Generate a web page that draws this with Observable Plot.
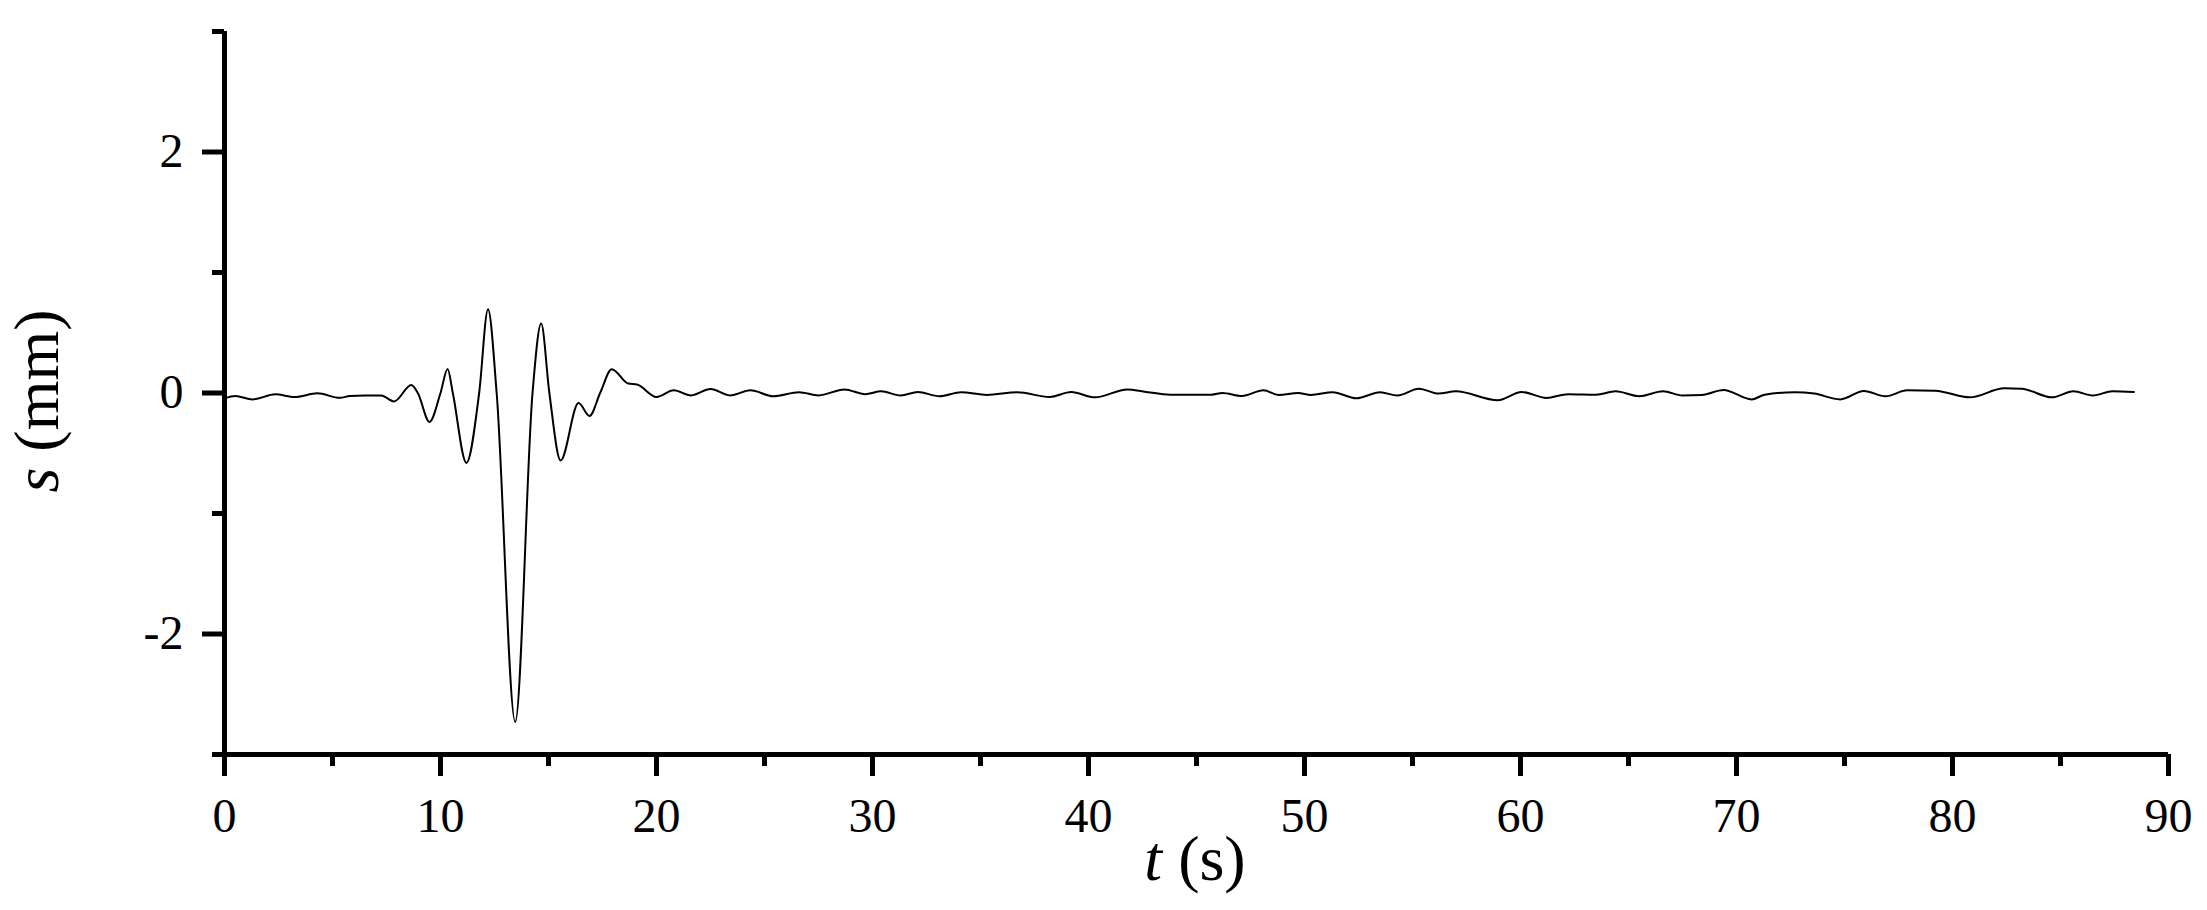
<!DOCTYPE html>
<html><head><meta charset="utf-8">
<script src="https://cdn.jsdelivr.net/npm/d3@7"></script>
<script src="https://cdn.jsdelivr.net/npm/@observablehq/plot@0.6"></script>
<style>body{margin:0;background:#fff;} svg{display:block}</style>
</head><body><div id="chart"></div>
<script>
// time (s)
const tSec = [0, 0.5, 1.3, 2.35, 3.25, 4.3, 5.35, 5.8, 6.5, 7.25, 7.85, 8.65, 8.95, 9.49, 10.0, 10.33, 10.57, 11.2, 11.79, 12.2, 12.6, 13.46, 14.26, 14.66, 15.04, 15.56, 16.39, 16.9, 17.39, 17.93, 18.69, 19.1, 20.0, 20.8, 21.6, 22.5, 23.4, 24.35, 25.4, 26.6, 27.5, 28.7, 29.66, 30.4, 31.3, 32.1, 33.1, 34.1, 35.3, 36.7, 38.2, 39.2, 40.3, 41.8, 42.6, 43.8, 45.7, 46.2, 47.1, 48.1, 48.8, 49.7, 50.3, 51.3, 52.4, 53.5, 54.3, 55.3, 56.2, 57.0, 58.95, 60.05, 61.2, 62.2, 63.5, 64.4, 65.5, 66.6, 67.5, 68.4, 69.4, 70.7, 71.3, 72.7, 73.6, 74.8, 75.9, 76.9, 77.9, 79.2, 80.8, 82.4, 83.2, 84.6, 85.6, 86.5, 87.4, 88.4];
// displacement (mm)
const sMm = [-0.045, -0.025, -0.053, -0.011, -0.033, -0.003, -0.04, -0.025, -0.02, -0.02, -0.07, 0.066, 0, -0.24, 0, 0.2, 0, -0.58, 0, 0.695, 0, -2.73, 0, 0.576, 0, -0.56, -0.083, -0.19, 0, 0.197, 0.078, 0.07, -0.033, 0.022, -0.02, 0.033, -0.02, 0.022, -0.027, 0.006, -0.02, 0.03, -0.01, 0.014, -0.02, 0.008, -0.027, 0.006, -0.016, 0.006, -0.033, 0.008, -0.036, 0.03, 0.011, -0.014, -0.014, 0, -0.025, 0.022, -0.016, 0, -0.016, 0.006, -0.044, 0.006, -0.02, 0.036, -0.005, 0.014, -0.06, 0.009, -0.041, -0.01, -0.014, 0.014, -0.027, 0.014, -0.02, -0.016, 0.025, -0.053, -0.014, 0.006, -0.005, -0.053, 0.017, -0.027, 0.022, 0.019, -0.036, 0.039, 0.036, -0.036, 0.014, -0.02, 0.014, 0.008];

const xMajorTicks = [0, 10, 20, 30, 40, 50, 60, 70, 80, 90];
const xMinorTicks = [5, 15, 25, 35, 45, 55, 65, 75, 85];
const yMajorTicks = [-2, 0, 2];
const yMinorTicks = [-3, -1, 1, 3];
const xLabelVar = "t", xLabelUnit = " (s)";
const yLabelVar = "s", yLabelUnit = " (mm)";

const W = 2207, H = 910;
const mL = 224, mR = 39, mT = 31, mB = 156;
const font = "'Liberation Serif', 'Times New Roman', serif";

const data = tSec.map((t, i) => ({t, s: sMm[i]}));

const chart = Plot.plot({
  width: W, height: H,
  marginLeft: mL, marginRight: mR, marginTop: mT, marginBottom: mB,
  style: {fontFamily: font, background: "white", color: "black"},
  x: {domain: [0, 90]},
  y: {domain: [-3, 3]},
  marks: [
    Plot.axisX(xMajorTicks, {tickSize: 22, tickPadding: 21, strokeWidth: 5, fontSize: 48, label: null, tickFormat: d => String(d)}),
    Plot.axisX(xMinorTicks, {tickSize: 12, strokeWidth: 5, label: null, tickFormat: () => ""}),
    Plot.axisY(yMajorTicks, {tickSize: 22, tickPadding: 19, strokeWidth: 5, fontSize: 48, label: null, tickFormat: d => String(d)}),
    Plot.axisY(yMinorTicks, {tickSize: 12, strokeWidth: 5, label: null, tickFormat: () => ""}),
    Plot.ruleY([-3], {strokeWidth: 5}),
    Plot.ruleX([0], {strokeWidth: 5}),
    Plot.line(data, {x: "t", y: "s", curve: "monotone-x", strokeWidth: 2, stroke: "black"})
  ]
});

const svg = d3.select(chart);
const xl = svg.append("text")
  .attr("x", 1195)
  .attr("y", 880)
  .attr("text-anchor", "middle")
  .attr("font-family", font)
  .attr("font-size", 64)
  .attr("fill", "black");
xl.append("tspan").attr("font-style", "italic").text(xLabelVar);
xl.append("tspan").text(xLabelUnit);

const yl = svg.append("text")
  .attr("transform", `translate(58, 401) rotate(-90)`)
  .attr("text-anchor", "middle")
  .attr("font-family", font)
  .attr("font-size", 64)
  .attr("fill", "black");
yl.append("tspan").attr("font-style", "italic").text(yLabelVar);
yl.append("tspan").text(yLabelUnit);

document.getElementById("chart").appendChild(chart);
</script>
</body></html>
